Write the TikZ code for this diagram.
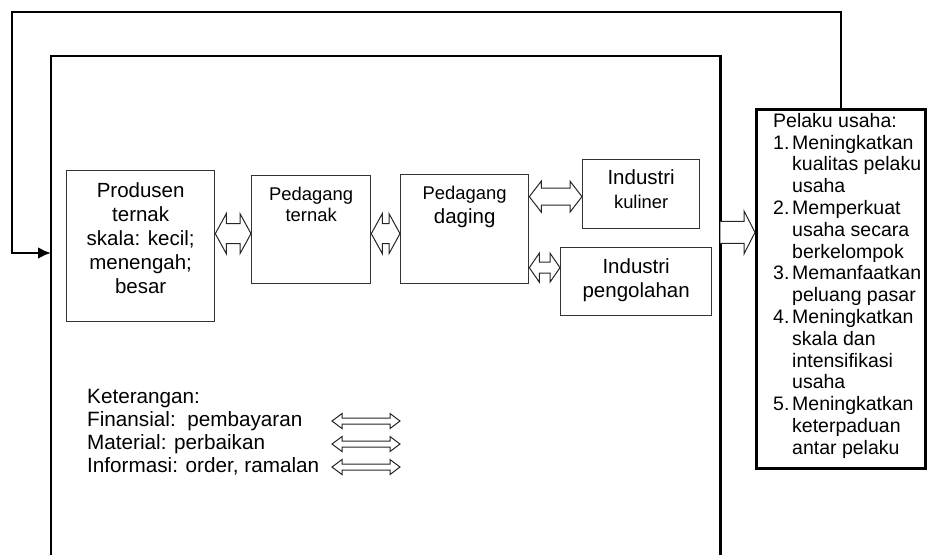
\documentclass[tikz,border=0pt]{standalone}
\usepackage{fontspec}
\setmainfont{Liberation Sans}
\usetikzlibrary{arrows.meta,calc}
\newcommand\fbig{\fontsize{20.5pt}{24pt}\selectfont}
\newcommand\fmid{\fontsize{18.4pt}{21pt}\selectfont}
\newcommand\fpel{\fontsize{19.5pt}{21.8pt}\selectfont}
\newcommand\fleg{\fontsize{20.7pt}{23pt}\selectfont}
\newcommand\itm[1]{\makebox[19pt][l]{#1}}
\newcommand\ind{\hspace*{19pt}}

\begin{document}
\begin{tikzpicture}[x=1pt,y=-1pt,
blk/.style={draw=black!80,line width=1.3pt,inner sep=0pt,align=center,anchor=north west},
wall/.style={line width=2.8pt},
harr/.style n args={3}{draw=black!85,line width=1pt,fill=white,to path={let \p1=(\tikztostart),\p2=(\tikztotarget) in (\x1,\y2)--(\x1+#1,\y2+#3)--(\x1+#1,\y2+#2)--(\x2-#1,\y2+#2)--(\x2-#1,\y2+#3)--(\x2,\y2)--(\x2-#1,\y2-#3)--(\x2-#1,\y2-#2)--(\x1+#1,\y2-#2)--(\x1+#1,\y2-#3)--cycle}},
rarr/.style n args={3}{draw=black!85,line width=1pt,fill=white,to path={let \p1=(\tikztostart),\p2=(\tikztotarget) in (\x1,\y2+#2)--(\x2-#1,\y2+#2)--(\x2-#1,\y2+#3)--(\x2,\y2)--(\x2-#1,\y2-#3)--(\x2-#1,\y2-#2)--(\x1,\y2-#2)}}]
\useasboundingbox (0,0) rectangle (931,555);
% frame of the chain and the box of actors
\node[minimum width=669pt,minimum height=499pt,inner sep=0pt,anchor=north west] (big) at (51,56) {};
\draw[wall] (big.south west)|-(big.north east)--(big.south east);
\node[draw,wall,minimum width=169pt,minimum height=359pt,inner sep=0pt,anchor=north west] (pel) at (755,108) {};
\node[anchor=north west,align=left,inner sep=0pt,font=\fpel] (peltxt) at ([xshift=18pt,yshift=-5pt]pel.north west) {Pelaku usaha:\\\itm{1.}Meningkatkan\\\ind kualitas pelaku\\\ind usaha\\\itm{2.}Memperkuat\\\ind usaha secara\\\ind berkelompok\\\itm{3.}Memanfaatkan\\\ind peluang pasar\\\itm{4.}Meningkatkan\\\ind skala dan\\\ind intensifikasi\\\ind usaha\\\itm{5.}Meningkatkan\\\ind keterpaduan\\\ind antar pelaku};
% chain
\node[blk,minimum width=148pt,text height=123pt,text depth=28pt,font=\fbig] (prod) at (66,170) {Produsen\\ternak\\skala: kecil;\\menengah;\\besar};
\node[blk,minimum width=119pt,text height=46pt,text depth=62pt,font=\fmid] (pdt) at (251,175) {Pedagang\\ternak};
\node[blk,minimum width=128pt,text height=49pt,text depth=60pt,font=\fbig] (pdg) at (400,174) {{\fmid Pedagang}\\daging};
\node[blk,minimum width=117pt,text height=49pt,text depth=20pt,font=\fbig] (kul) at (582,159) {Industri\\{\fmid kuliner}};
\node[blk,minimum width=151pt,text height=50pt,text depth=18pt,font=\fbig] (olh) at (560,247) {Industri\\pengolahan};
\draw[harr={11pt}{10pt}{20pt}] (prod.east) to ([yshift=-4pt]pdt.west);
\draw[harr={11pt}{10pt}{20pt}] (pdt.east) to ([yshift=-4.5pt]pdg.west);
\draw[harr={12pt}{8.5pt}{15.5pt}] (pdg.east) to ([yshift=-2.5pt]kul.west);
\draw[harr={10pt}{5.5pt}{14.5pt}] (pdg.east) to ([yshift=14pt]olh.west);
\draw[rarr={11pt}{11pt}{21.5pt}] (big.east) to ([yshift=56.5pt]pel.west);
% feedback loop
\coordinate (lp) at (12,12);
\coordinate (lin) at (51,253);
\draw[wall,-{Latex[length=13pt,width=12pt]}] (pel.north)|-(lp)|-(lin);
% legend
\node[anchor=north west,align=left,inner sep=0pt,font=\fleg] (leg) at (87,389) {Keterangan:\\Finansial:\ \ pembayaran\\Material: perbaikan\\Informasi: order, ramalan};
\foreach \yy [count=\i] in {421,444,467}{
  \coordinate (la\i) at (332,\yy);\coordinate (lb\i) at (400,\yy);
  \draw[harr={10pt}{3pt}{7.5pt}] (la\i) to (lb\i);}
\end{tikzpicture}
\end{document}
